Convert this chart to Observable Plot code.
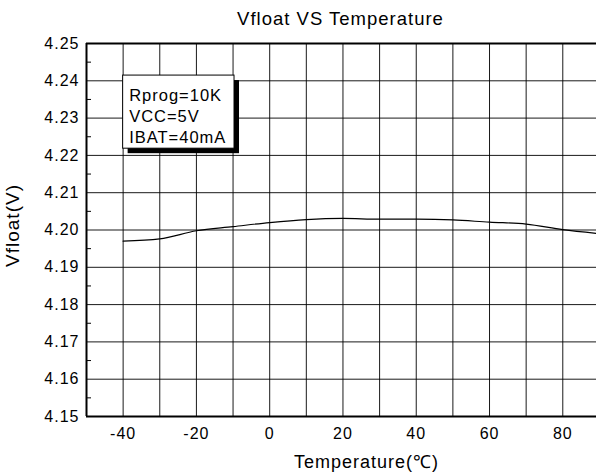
<!DOCTYPE html>
<html>
<head>
<meta charset="utf-8">
<script src="https://cdn.jsdelivr.net/npm/d3@7"></script>
<script src="https://cdn.jsdelivr.net/npm/@observablehq/plot@0.6"></script>
<style>
  html, body { margin: 0; padding: 0; background: #fff; }
  svg text { letter-spacing: 1px; }
</style>
</head>
<body>
<div id="chart"></div>
<script>
// ---- data ----
const temperatures = [-40, -30, -20, -10, 0, 10, 20, 30, 40, 50, 60, 70, 80, 89.2];
const vfloat = [4.1970, 4.1976, 4.1998, 4.2009, 4.2020, 4.2028, 4.2031, 4.2029, 4.2029, 4.2027, 4.2021, 4.2016, 4.2001, 4.1991];
const xTickLabels = [-40, -20, 0, 20, 40, 60, 80];
const xGrid = [-40, -30, -20, -10, 0, 10, 20, 30, 40, 50, 60, 70, 80];
const yTickLabels = [4.15, 4.16, 4.17, 4.18, 4.19, 4.20, 4.21, 4.22, 4.23, 4.24, 4.25];
const yMinorTicks = [4.155, 4.165, 4.175, 4.185, 4.195, 4.205, 4.215, 4.225, 4.235, 4.245];
const legendLines = ["Rprog=10K", "VCC=5V", "IBAT=40mA"];
const titleText = "Vfloat VS Temperature";
const xLabel = "Temperature(\u2103)";
const yLabel = "Vfloat(V)";

const data = temperatures.map((t, i) => ({t, v: vfloat[i]}));

// ---- layout ----
const W = 596, H = 474;
const mL = 86, mR = 0, mT = 43, mB = 58;
const frameW = W - mL - mR;
const xDomain = [-50, 89.2];
const yDomain = [4.15, 4.25];
// legend box (annotation) in data units
const box = {x1: -40, x2: -9.6, y1: 4.2218, y2: 4.2414};

const chart = Plot.plot({
  width: W, height: H,
  marginLeft: mL, marginRight: mR, marginTop: mT, marginBottom: mB,
  style: {fontFamily: "'Liberation Sans', Arial, sans-serif", fontSize: "16px", color: "#000", background: "#fff", overflow: "visible"},
  x: {domain: xDomain},
  y: {domain: yDomain},
  marks: [
    Plot.gridX(xGrid, {stroke: "#000", strokeOpacity: 0.9, strokeWidth: 1}),
    Plot.gridY(yTickLabels, {stroke: "#000", strokeOpacity: 0.9, strokeWidth: 1}),
    Plot.tickY(yMinorTicks, {y: d => d, stroke: "#000", strokeWidth: 1, insetRight: frameW - 5}),
    Plot.axisX(xTickLabels, {tickSize: 0, tickPadding: 11, tickFormat: d => String(d), label: null, fontSize: 16}),
    Plot.axisY(yTickLabels, {tickSize: 0, tickPadding: 7, tickFormat: d3.format(".2f"), label: null, fontSize: 16}),
    Plot.ruleX([xDomain[0]], {stroke: "#000", strokeWidth: 2}),
    Plot.ruleY([yDomain[0], yDomain[1]], {stroke: "#000", strokeWidth: 2}),
    Plot.line(data, {x: "t", y: "v", stroke: "#000", strokeWidth: 1.2, curve: "monotone-x"}),
    // legend box with shadow
    Plot.rect([box], {x1: "x1", x2: "x2", y1: "y1", y2: "y2", fill: "#000", dx: 5, dy: 5}),
    Plot.rect([box], {x1: "x1", x2: "x2", y1: "y1", y2: "y2", fill: "#fff", stroke: "#000", strokeWidth: 1}),
    Plot.text([legendLines.join("\n")], {x: box.x1, y: 4.2387, text: d => d, textAnchor: "start", lineAnchor: "top", lineHeight: 1.29, dx: 6, fontSize: 16.5, fill: "#000"}),
    // titles
    Plot.text([titleText], {frameAnchor: "top", text: d => d, dy: -24, dx: -1, lineAnchor: "middle", fontSize: 18.5, fill: "#000"}),
    Plot.text([xLabel], {frameAnchor: "bottom", text: d => d, dy: 45.5, dx: 25, lineAnchor: "middle", fontSize: 18, fill: "#000"}),
    Plot.text([yLabel], {frameAnchor: "left", text: d => d, rotate: -90, dx: -73.5, dy: -4.5, lineAnchor: "middle", textAnchor: "middle", fontSize: 19, fill: "#000"})
  ]
});
document.getElementById("chart").appendChild(chart);
</script>
</body>
</html>
